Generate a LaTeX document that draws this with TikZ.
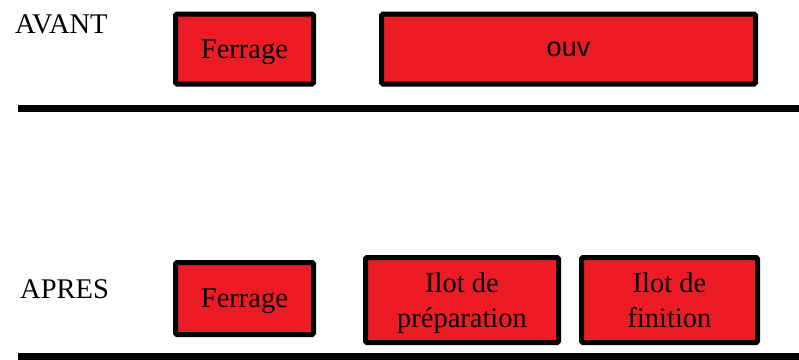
\documentclass[tikz,border=0pt]{standalone}
\usepackage{fontspec}
\setmainfont{Liberation Serif}
\newfontfamily\ouvfont{Liberation Sans}
\definecolor{rouge}{HTML}{ED1C24}
\tikzset{
  poste/.style={draw=black, line width=5pt, fill=rouge, rounded corners=1.5pt,
    align=center, text depth=0pt, inner sep=0pt,
    font=\fontsize{28.5}{35}\selectfont},
  ligne/.style={line width=7pt},
  etiquette/.style={anchor=base west, inner sep=0pt, font=\fontsize{28.5}{35}\selectfont}
}
\begin{document}
\begin{tikzpicture}[x=1pt,y=-1pt]
            \useasboundingbox (0,0) rectangle (799,359);
            % avant
            \node [etiquette] (avant) at (15,33) {AVANT};
            \node [poste, minimum width=138pt, minimum height=70pt] (ferrageA) at (244.5,49) {Ferrage};
            \node [poste, minimum width=374pt, minimum height=70pt, font=\ouvfont\fontsize{27}{32}\selectfont] (ouv) at (568.5,49) {ouv};
            \path (18,108) coordinate (A1) -- (799,108) coordinate (A2);
            \draw [ligne] (A1) -- (A2);
            % apres
            \node [etiquette] (apres) at (20,298) {APRES};
            \node [poste, minimum width=138pt, minimum height=72pt] (ferrageB) at (244.5,298.5) {Ferrage};
            \node [poste, minimum width=193pt, minimum height=85pt] (prep) at (462,300) {Ilot de\\préparation};
            \node [poste, minimum width=176pt, minimum height=85pt] (fin) at (669.5,300) {Ilot de\\finition};
            \path (18,356) coordinate (B1) -- (799,356) coordinate (B2);
            \draw [ligne] (B1) -- (B2);
        \end{tikzpicture}
\end{document}
